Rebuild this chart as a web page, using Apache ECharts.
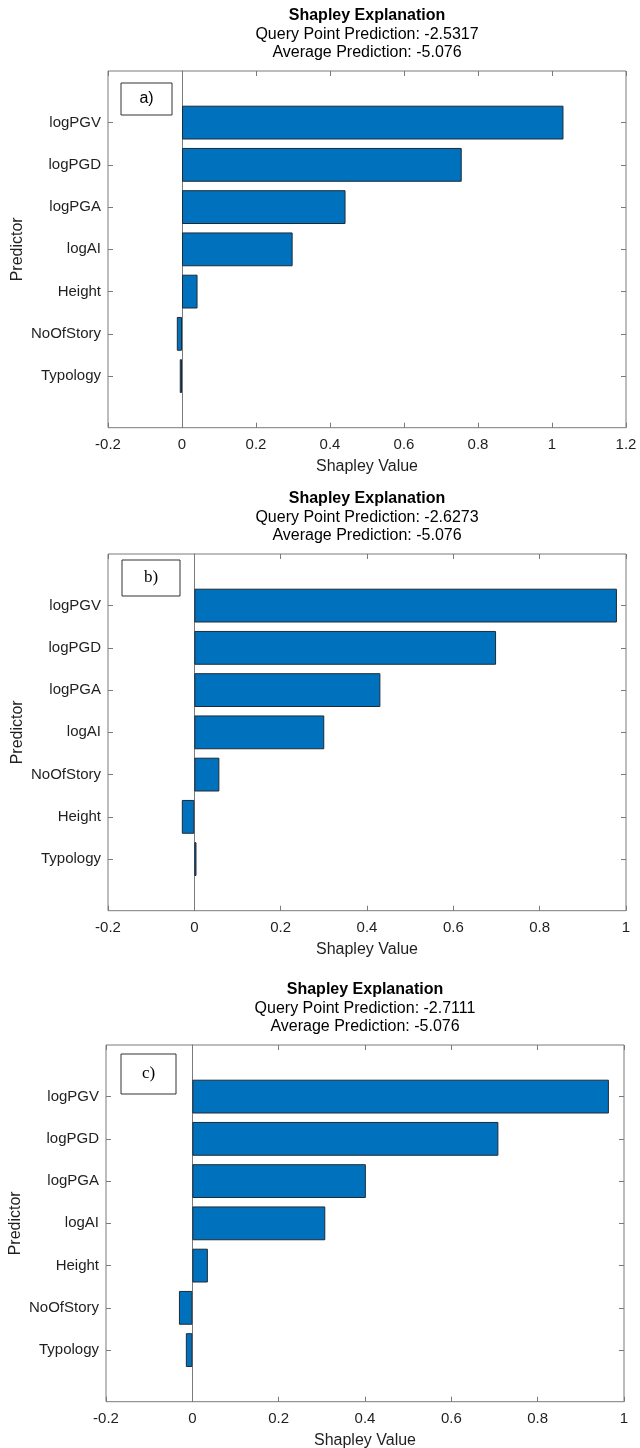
<!DOCTYPE html>
<html>
<head>
<meta charset="utf-8">
<script src="https://cdn.jsdelivr.net/npm/echarts@6/dist/echarts.min.js"></script>
<style>
  html, body { margin: 0; padding: 0; background: #fff; }
  #chart { width: 640px; height: 1448px; }
</style>
</head>
<body>
<div id="chart"></div>
<script>
// Shapley values for three query points (predictors listed top to bottom)
const catsA = ['logPGV', 'logPGD', 'logPGA', 'logAI', 'Height', 'NoOfStory', 'Typology'];
const valsA = [1.031, 0.756, 0.442, 0.299, 0.042, -0.014, -0.006];

const catsB = ['logPGV', 'logPGD', 'logPGA', 'logAI', 'NoOfStory', 'Height', 'Typology'];
const valsB = [0.979, 0.699, 0.431, 0.301, 0.058, -0.029, 0.005];

const catsC = ['logPGV', 'logPGD', 'logPGA', 'logAI', 'Height', 'NoOfStory', 'Typology'];
const valsC = [0.965, 0.709, 0.402, 0.308, 0.036, -0.031, -0.015];

const queryPred = ['-2.5317', '-2.6273', '-2.7111'];
const avgPred = '-5.076';
const panelTags = ['a)', 'b)', 'c)'];
const xMin = [-0.2, -0.2, -0.2];
const xMax = [1.2, 1.0, 1.0];
const xStep = 0.2;

// layout of the three axes boxes
const boxTop = [71, 554, 1045];
const boxLeft = [108, 108, 106];
const boxRight = [14, 14, 16];
const band = 42.25;
const pad = 51.6;
const boxH = 6 * band + 2 * pad;
const tagBox = [
  { dx: 13, dy: 12, w: 51, h: 32, size: 16, family: '"Liberation Sans", Arial, sans-serif' },
  { dx: 14, dy: 6, w: 58, h: 36, size: 17, family: '"Liberation Serif", "Times New Roman", serif' },
  { dx: 15, dy: 9, w: 55, h: 40, size: 17, family: '"Liberation Serif", "Times New Roman", serif' }
];

const SANS = '"Liberation Sans", Arial, Helvetica, sans-serif';
const TXT = '#1f1f1f';
const AX = '#7a7a7a';

const panels = [
  { cats: catsA, vals: valsA },
  { cats: catsB, vals: valsB },
  { cats: catsC, vals: valsC }
];

const grid = [], xAxis = [], yAxis = [], series = [], graphic = [];
const fmt = v => String(+v.toFixed(2));

panels.forEach((p, i) => {
  const top = boxTop[i];
  const left = boxLeft[i];
  const right = boxRight[i];
  const frameGrid = grid.length;
  // full axes box
  grid.push({ left: left, right: right, top: top, height: boxH, show: true,
              borderColor: AX, borderWidth: 1, backgroundColor: 'transparent',
              containLabel: false, outerBoundsMode: 'none' });
  const barGrid = grid.length;
  // bar area: category bands centred on the tick rows
  grid.push({ left: left, right: right, top: top + pad - band / 2, height: 7 * band,
              containLabel: false, outerBoundsMode: 'none' });

  // bottom x axis with labels
  xAxis.push({
    type: 'value', gridIndex: frameGrid, position: 'bottom',
    min: xMin[i], max: xMax[i], interval: xStep,
    axisLine: { show: false, onZero: false },
    axisTick: { show: true, inside: true, length: 5, lineStyle: { color: AX } },
    axisLabel: { show: true, margin: 10, fontSize: 15, fontFamily: SANS, color: TXT,
                 formatter: fmt, showMinLabel: true, showMaxLabel: true },
    splitLine: { show: false },
    name: 'Shapley Value', nameLocation: 'middle', nameGap: 31, nameMoveOverlap: false,
    nameTextStyle: { fontSize: 16, fontFamily: SANS, color: TXT }
  });
  // top x axis: ticks only
  xAxis.push({
    type: 'value', gridIndex: frameGrid, position: 'top',
    min: xMin[i], max: xMax[i], interval: xStep,
    axisLine: { show: false, onZero: false },
    axisTick: { show: true, inside: true, length: 5, lineStyle: { color: AX } },
    axisLabel: { show: false }, splitLine: { show: false }
  });
  // hidden x axis driving the bars
  const barX = xAxis.length;
  xAxis.push({
    type: 'value', gridIndex: barGrid, min: xMin[i], max: xMax[i], interval: xStep,
    show: false, axisLine: { onZero: false }
  });

  // frame y axis: only its line, sitting at x = 0
  yAxis.push({
    type: 'value', gridIndex: frameGrid, min: 0, max: 1,
    axisLine: { show: true, onZero: true, lineStyle: { color: AX, width: 1 } },
    axisTick: { show: false }, axisLabel: { show: false }, splitLine: { show: false }
  });
  const barY = yAxis.length;
  yAxis.push({
    type: 'category', gridIndex: barGrid, data: p.cats, inverse: true, position: 'left',
    axisLine: { show: false, onZero: false },
    axisTick: { show: true, inside: true, length: 5, alignWithLabel: true, lineStyle: { color: AX } },
    axisLabel: { interval: 0, margin: 7, fontSize: 15, fontFamily: SANS, color: TXT },
    splitLine: { show: false },
    name: 'Predictor', nameLocation: 'middle', nameGap: 82, nameRotate: 90,
    nameMoveOverlap: false,
    nameTextStyle: { fontSize: 16, fontFamily: SANS, color: TXT }
  });
  yAxis.push({
    type: 'category', gridIndex: barGrid, data: p.cats, inverse: true, position: 'right',
    axisLine: { show: false, onZero: false },
    axisTick: { show: true, inside: true, length: 5, alignWithLabel: true, lineStyle: { color: AX } },
    axisLabel: { show: false }, splitLine: { show: false }
  });

  series.push({
    type: 'bar', xAxisIndex: barX, yAxisIndex: barY, data: p.vals,
    barWidth: '80%', z: 1,
    itemStyle: { color: '#0072BD', borderColor: '#1e2a36', borderWidth: 1 }
  });

  // titles
  const cx = left + (640 - right - left) / 2;
  const titleStyle = { fontSize: 16, fontFamily: SANS, fill: '#000',
                       align: 'center', verticalAlign: 'middle',
                       textAlign: 'center', textVerticalAlign: 'middle' };
  graphic.push({
    type: 'text', x: cx, y: top - 55,
    style: Object.assign({}, titleStyle, { text: 'Shapley Explanation', fontWeight: 'bold' })
  });
  graphic.push({
    type: 'text', x: cx, y: top - 36,
    style: Object.assign({}, titleStyle, { text: 'Query Point Prediction: ' + queryPred[i] })
  });
  graphic.push({
    type: 'text', x: cx, y: top - 18,
    style: Object.assign({}, titleStyle, { text: 'Average Prediction: ' + avgPred })
  });

  // panel tag box
  const tb = tagBox[i];
  graphic.push({
    type: 'group', x: left + tb.dx, y: top + tb.dy,
    children: [
      { type: 'rect', shape: { x: 0, y: 0, width: tb.w, height: tb.h },
        style: { fill: '#fff', stroke: '#333', lineWidth: 1 } },
      { type: 'text', x: tb.w / 2, y: tb.h / 2,
        style: { text: panelTags[i], fontSize: tb.size, fontFamily: tb.family, fill: '#000',
                 align: 'center', verticalAlign: 'middle',
                 textAlign: 'center', textVerticalAlign: 'middle' } }
    ]
  });
});

const chart = echarts.init(document.getElementById('chart'), null, { renderer: 'canvas' });
chart.setOption({
  animation: false,
  backgroundColor: '#fff',
  grid: grid, xAxis: xAxis, yAxis: yAxis, series: series, graphic: graphic
});
</script>
</body>
</html>
